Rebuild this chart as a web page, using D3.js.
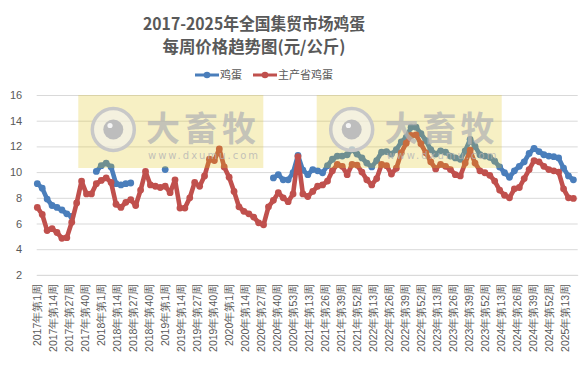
<!DOCTYPE html>
<html><head><meta charset="utf-8">
<script src="https://cdn.jsdelivr.net/npm/d3@7"></script>
<style>
html,body{margin:0;padding:0;background:#fff;}
svg{display:block;font-family:"Noto Sans CJK SC","Noto Sans",sans-serif;}
</style></head>
<body>
<svg id="chart" width="588" height="365"></svg>
<script>
// ---- data ----
const titleLines = ["2017-2025年全国集贸市场鸡蛋", "每周价格趋势图(元/公斤)"];
const seriesNames = ["鸡蛋", "主产省鸡蛋"];
const years = [2017, 2018, 2019, 2020, 2021, 2022, 2023, 2024, 2025];
const weeksInYear = [52, 52, 52, 53, 52, 52, 52, 52, 23];
const tickLabels = [
  "2017年第1周","2017年第14周","2017年第27周","2017年第40周",
  "2018年第1周","2018年第14周","2018年第27周","2018年第40周",
  "2019年第1周","2019年第14周","2019年第27周","2019年第40周",
  "2020年第1周","2020年第14周","2020年第27周","2020年第40周","2020年第53周",
  "2021年第13周","2021年第26周","2021年第39周","2021年第52周",
  "2022年第13周","2022年第26周","2022年第39周","2022年第52周",
  "2023年第13周","2023年第26周","2023年第39周","2023年第52周",
  "2024年第13周","2024年第26周","2024年第39周","2024年第52周",
  "2025年第13周"
];
const yTicks = [2, 4, 6, 8, 10, 12, 14, 16];
// values read every 4th week (week index = k*4)
const sampleStep = 4;
const eggValues = [
  9.1, 8.75, 7.9, 7.4, 7.25, 7.05, 6.75, 6.55, null, null,
  null, null, 10.05, 10.5, 10.7, 10.4, 9.1, 9.0, 9.1, 9.15,
  null, null, null, null, null, null, 10.2, null, null, null,
  null, null, null, null, null, null, null, null, null, null,
  null, null, null, null, null, null, null, null, 9.55, 9.8,
  9.4, 9.4, 9.95, 11.3, 10.15, 9.8, 10.2, 10.1, 9.95, 10.5,
  11.0, 11.25, 11.25, 11.35, 11.75, 11.4, 11.1, 10.7, 10.4, 10.9,
  11.55, 11.6, 11.4, 11.75, 12.35, 12.7, 13.5, 13.5, 13.0, 12.45,
  11.75, 11.4, 11.65, 11.55, 11.25, 11.1, 11.0, 11.65, 12.55, 12.0,
  11.35, 11.25, 11.15, 10.85, 10.4, 9.95, 9.6, 10.1, 10.45, 10.8,
  11.45, 11.85, 11.6, 11.35, 11.25, 11.2, 11.1, 10.3, 9.7, 9.4
];
const mainEggValues = [
  7.25, 6.7, 5.45, 5.6, 5.3, 4.85, 4.9, 6.1, 7.6, 9.3,
  8.3, 8.3, 9.1, 9.35, 9.55, 9.2, 7.5, 7.25, 7.65, 7.85,
  7.4, 8.6, 10.05, 9.0, 8.9, 8.8, 8.9, 8.4, 9.4, 7.2,
  7.2, 8.0, 9.2, 8.9, 9.7, 11.0, 10.9, 11.8, 10.4, 9.6,
  8.5, 7.3, 6.95, 6.75, 6.5, 6.05, 5.9, 7.3, 7.8, 8.4,
  8.0, 7.7, 8.3, 11.2, 8.3, 8.1, 8.5, 8.9, 9.0, 9.3,
  10.1, 10.6, 10.45, 9.8, 10.6, 10.55, 10.0, 9.4, 9.0, 9.5,
  10.6, 10.5, 9.85, 10.3, 11.5, 12.25, 12.85, 12.9, 12.2, 11.5,
  10.8, 10.25, 10.6, 10.45, 10.2, 9.8, 9.7, 10.7, 11.7, 10.7,
  10.1, 9.95, 9.75, 9.3, 8.6, 8.2, 8.0, 8.7, 8.8, 9.5,
  10.2, 10.9, 10.8, 10.45, 10.2, 10.1, 10.0, 8.7, 8.0, 7.95
];
const colors = ["#4a7ebb", "#c0504d"];

(function () {
// ---- categories ----
const categories = [];
years.forEach((yr, i) => { for (let w = 1; w <= weeksInYear[i]; w++) categories.push(yr + "年第" + w + "周"); });

const svg = d3.select("#chart");
const pLeft = 36.7, pRight = 577.7, pTop = 95, pBottom = 274.9;
const x = d3.scaleBand().domain(categories).range([pLeft, pRight]).padding(0);
const y = d3.scaleLinear().domain([2, 16]).range([pBottom, pTop]);
const cx = i => x(categories[i * sampleStep]) + x.bandwidth() / 2;

// title
svg.append("g").selectAll("text").data(titleLines).join("text")
  .attr("x", 254).attr("y", (d, i) => 30 + i * 23)
  .attr("text-anchor", "middle").attr("font-size", 16.5).attr("font-weight", "bold")
  .attr("fill", "#595959")
  .attr("textLength", (d, i) => i === 0 ? 222 : 183).attr("lengthAdjust", "spacingAndGlyphs")
  .text(d => d);

// legend
const leg = svg.append("g");
const legItems = [{x0: 195, name: seriesNames[0], c: colors[0]}, {x0: 253, name: seriesNames[1], c: colors[1]}];
legItems.forEach(it => {
  leg.append("line").attr("x1", it.x0).attr("x2", it.x0 + 24).attr("y1", 75).attr("y2", 75)
    .attr("stroke", it.c).attr("stroke-width", 3);
  leg.append("circle").attr("cx", it.x0 + 12).attr("cy", 75).attr("r", 3.3).attr("fill", it.c);
  leg.append("text").attr("x", it.x0 + 25).attr("y", 75).attr("dy", "0.36em")
    .attr("font-size", 11).attr("fill", "#595959").text(it.name);
});

// y axis + gridlines
const yAxis = svg.append("g").attr("transform", `translate(${pLeft},0)`)
  .call(d3.axisLeft(y).tickValues(yTicks).tickSize(-(pRight - pLeft)).tickPadding(14.5).tickFormat(d3.format("d")));
yAxis.select(".domain").remove();
yAxis.selectAll(".tick line").attr("stroke", "#d9d9d9").attr("stroke-width", 1);
yAxis.selectAll(".tick text").attr("fill", "#595959").attr("font-size", 11)
  .attr("font-family", "'Liberation Sans','Noto Sans',sans-serif");

// x axis
const xAxis = svg.append("g").attr("transform", `translate(0,${pBottom})`)
  .call(d3.axisBottom(x).tickValues(tickLabels).tickSize(0));
xAxis.select(".domain").attr("stroke", "#d9d9d9");
xAxis.selectAll(".tick text")
  .attr("fill", "#595959").attr("font-size", 10.5)
  .attr("text-anchor", "end")
  .attr("transform", "translate(0,9) rotate(-90)")
  .attr("x", 0).attr("y", 0).attr("dy", "0.36em");

// series
function drawSeries(vals, color) {
  const pts = vals.map((v, i) => ({i, v})).filter(d => d.v != null);
  const line = d3.line().defined(d => d.v != null).x(d => cx(d.i)).y(d => y(d.v));
  svg.append("path").datum(vals.map((v, i) => ({i, v})))
    .attr("d", line).attr("fill", "none").attr("stroke", color)
    .attr("stroke-width", 4.6).attr("stroke-linejoin", "round").attr("stroke-linecap", "round");
  svg.append("g").selectAll("circle").data(pts).join("circle")
    .attr("cx", d => cx(d.i)).attr("cy", d => y(d.v)).attr("r", 3.4).attr("fill", color);
}
drawSeries(eggValues, colors[0]);
drawSeries(mainEggValues, colors[1]);

// watermarks (overlay)
[0, 238.4].forEach(off => {
  const g = svg.append("g").attr("transform", `translate(${off},0)`);
  g.append("rect").attr("x", 78.3).attr("y", 95).attr("width", 185).attr("height", 73)
    .attr("fill", "rgb(222,194,20)").attr("fill-opacity", 0.25);
  g.append("circle").attr("cx", 113.3).attr("cy", 129.5).attr("r", 21)
    .attr("fill", "#f2f2f2").attr("fill-opacity", 0.6).attr("stroke", "#c8c8c8").attr("stroke-width", 3.5);
  g.append("circle").attr("cx", 113.3).attr("cy", 129.5).attr("r", 10).attr("fill", "#bdbdbd");
  g.append("circle").attr("cx", 110).attr("cy", 125.5).attr("r", 2.6).attr("fill", "#f5f5f5");
  g.append("text").attr("x", 146).attr("y", 141).attr("font-size", 34).attr("font-weight", "bold")
    .attr("fill", "#b4b4b4").attr("fill-opacity", 0.75).attr("letter-spacing", 4).text("大畜牧");
  g.append("text").attr("x", 148).attr("y", 158.5).attr("font-size", 10)
    .attr("font-family", "'DejaVu Sans',sans-serif")
    .attr("fill", "#b4b4b4").attr("fill-opacity", 0.8).attr("letter-spacing", 2).text("www.dxumu.com");
});
})();
</script>
</body></html>
